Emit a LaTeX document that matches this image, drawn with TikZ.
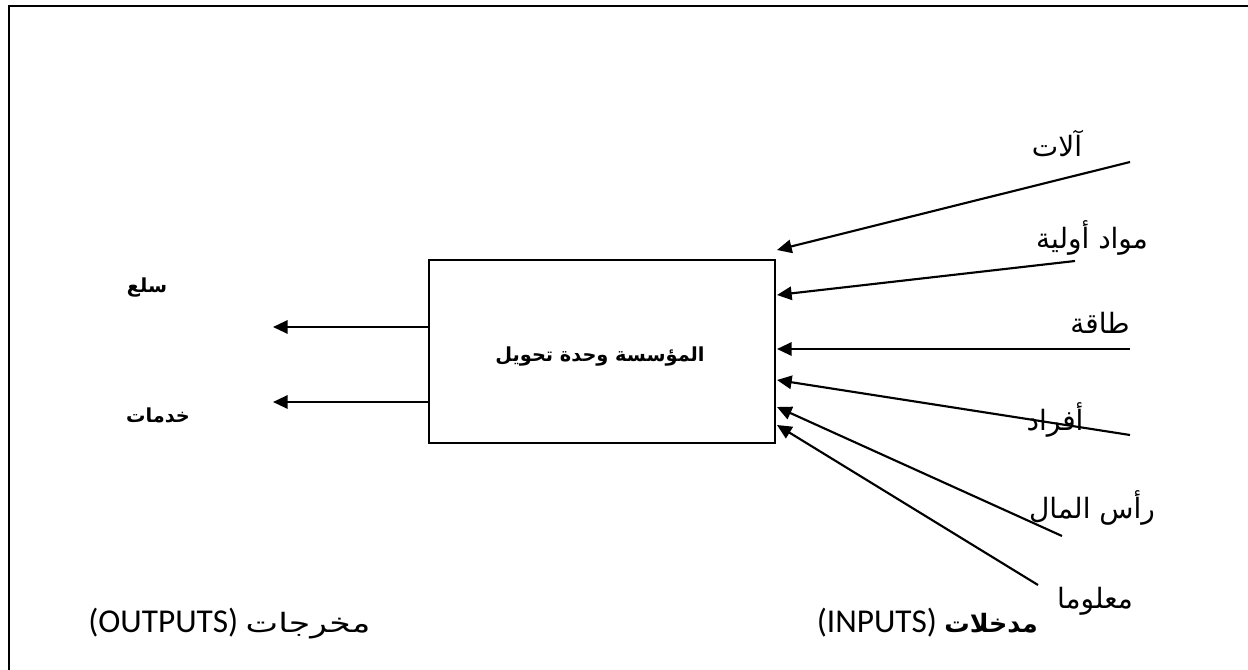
\documentclass[tikz,border=0pt]{standalone}
\usepackage{fontspec}
\setmainfont{Carlito}
\newfontfamily\arabicfont[Script=Arabic]{DejaVu Sans}
\newfontfamily\arabicwide[Script=Arabic,FakeStretch=1.3]{DejaVu Sans}
\TeXXeTstate=1
\usetikzlibrary{arrows.meta}

\begin{document}
\begin{tikzpicture}[
  x=0.75pt, y=-0.75pt,
  font=\arabicfont\fontsize{21}{25}\selectfont,
  unitbox/.style={draw, line width=1.2pt, minimum width=259.5pt, minimum height=137.25pt, inner sep=0pt},
  boldlbl/.style={font=\arabicfont\bfseries\fontsize{14.5}{17}\selectfont, inner sep=0pt},
  lbl/.style={inner sep=0pt},
  caplbl/.style={font=\rmfamily\fontsize{25}{29}\selectfont, inner sep=0pt},
  flowarr/.style={-{Triangle[length=11pt,width=10pt]}, line width=1.6pt}
]
  \useasboundingbox (0,0) rectangle (1248,670);
  \clip (0,0) rectangle (1248,670);
  % frame
  \draw[line width=2pt] (9,700) -- (9,6) -- (1300,6);

  % the firm
  \node[unitbox] (firm) at (602,351.5) {};
  \node[boldlbl] (firmtxt) at (600,357) {\beginR المؤسسة وحدة تحويل\endR};

  % outputs
  \coordinate (goods) at (273,327);
  \coordinate (serv) at (273,402);
  \draw[flowarr] (firm.west |- goods) -- (goods);
  \draw[flowarr] (firm.west |- serv) -- (serv);
  \node[boldlbl] (goodstxt) at (147,288) {\beginR سلع\endR};
  \node[boldlbl] (servtxt) at (158,415) {\beginR خدمات\endR};

  % inputs
  \coordinate (mach) at (1130,162);
  \coordinate (raw) at (1075,261);
  \coordinate (energy) at (1130,349);
  \coordinate (people) at (1130,435);
  \coordinate (capital) at (1062,536);
  \coordinate (info) at (1038,585);
  \coordinate (machE) at (777,250);
  \coordinate (rawE) at (777,295);
  \coordinate (energyE) at (777,349);
  \coordinate (peopleE) at (777,380);
  \coordinate (capitalE) at (777,407);
  \coordinate (infoE) at (777,425);
  \foreach \src in {mach,raw,energy,people,capital,info}
    \draw[flowarr] (\src) -- (\src E);

  \node[lbl] (machtxt) at (1057,143) {\beginR آلات\endR};
  \node[lbl] (rawtxt) at (1092,238) {\beginR مواد أولية\endR};
  \node[lbl] (energytxt) at (1100,323) {\beginR طاقة\endR};
  \node[lbl] (peopletxt) at (1055,420) {\beginR أفراد\endR};
  \node[lbl] (capitaltxt) at (1092,508) {\beginR رأس المال\endR};
  \node[lbl] (infotxt) at (1095,601) {\beginR معلوما\endR};

  % bottom captions
  \node[caplbl, anchor=base west] (outcap) at (88,632) {(OUTPUTS) {\arabicwide\fontsize{20}{24}\selectfont\beginR مخرجات\endR}};
  \node[caplbl, anchor=base east] (incap) at (1038,632) {(INPUTS) {\arabicfont\bfseries\fontsize{19}{22}\selectfont\beginR مدخلات\endR}};
\end{tikzpicture}
\end{document}
